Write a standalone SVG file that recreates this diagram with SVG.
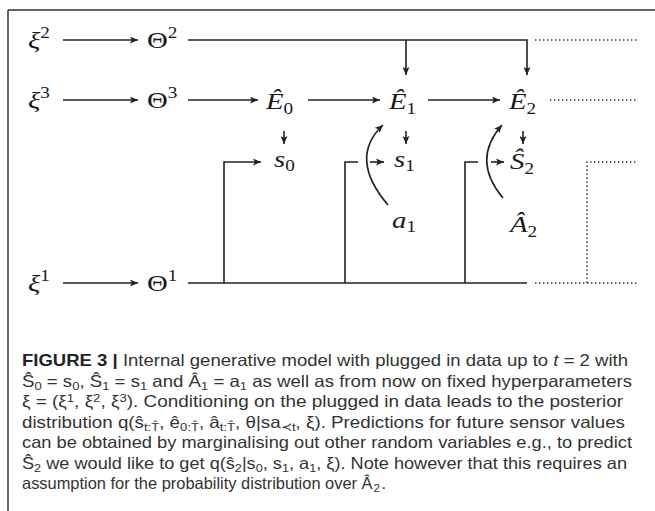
<svg xmlns="http://www.w3.org/2000/svg" width="655" height="511" viewBox="0 0 655 511">
<style>
.m{font-family:"Liberation Serif","DejaVu Serif",serif;font-size:24px;fill:#1a1a1a}
.i{font-style:italic}
.sc{font-size:16px;font-style:normal}
.ln{fill:none;stroke:#222;stroke-width:1.6}
.dot{fill:none;stroke:#333;stroke-width:1.5;stroke-dasharray:1.4 2.6}
.cap{font-family:"Liberation Sans","Roboto",sans-serif;font-size:16.5px;fill:#333}
.b{font-weight:bold;fill:#222}
.sb{font-size:11.5px}
</style>
<defs>
<marker id="ah" viewBox="0 0 8 7" refX="8" refY="3.5" markerWidth="8" markerHeight="7" markerUnits="userSpaceOnUse" orient="auto">
<path d="M0,0 L8,3.5 L0,7 L1.8,3.5 z" fill="#222"/>
</marker>
</defs>
<rect width="655" height="511" fill="#fff"/>
<g id="frame">
<path d="M8,10 H655 M8,10 V511" fill="none" stroke="#333" stroke-width="1.5"/>
</g>
<g id="connectors">
<path class="ln" d="M63,40 H138" marker-end="url(#ah)"/>
<path class="ln" d="M63,100 H138" marker-end="url(#ah)"/>
<path class="ln" d="M63,283 H138" marker-end="url(#ah)"/>
<path class="ln" d="M188,100 H258" marker-end="url(#ah)"/>
<path class="ln" d="M308,100 H380" marker-end="url(#ah)"/>
<path class="ln" d="M428,100 H500" marker-end="url(#ah)"/>
<path class="ln" d="M188,40 H527 V75" marker-end="url(#ah)"/>
<path class="ln" d="M406,40 V75" marker-end="url(#ah)"/>
<path class="ln" d="M284,131 V144" marker-end="url(#ah)"/>
<path class="ln" d="M406,131 V144" marker-end="url(#ah)"/>
<path class="ln" d="M523,131 V144" marker-end="url(#ah)"/>
<path class="ln" d="M188,283 H527"/>
<path class="ln" d="M224,283 V162 H261" marker-end="url(#ah)"/>
<path class="ln" d="M345,283 V162 H358"/>
<path class="ln" d="M465,283 V162 H478"/>
<path class="ln" d="M370,162 H384" marker-end="url(#ah)"/>
<path class="ln" d="M491,162 H504" marker-end="url(#ah)"/>
<path class="ln" d="M388,205 Q348,158 383,125" marker-end="url(#ah)"/>
<path class="ln" d="M503,198 Q471,160 502,125" marker-end="url(#ah)"/>
<path class="dot" d="M535,40 H637"/>
<path class="dot" d="M550,100 H637"/>
<path class="dot" d="M535,283 H637"/>
<path class="dot" d="M587,283 V162 H637"/>
</g>
<g id="n-xi2"><text class="m" transform="translate(28,48) scale(1.2,1)"><tspan class="i">ξ</tspan><tspan class="sc" dy="-10">2</tspan></text></g>
<g id="n-theta2"><text class="m" transform="translate(147,48) scale(1.2,1)">Θ<tspan class="sc" dy="-10">2</tspan></text></g>
<g id="n-xi3"><text class="m" transform="translate(28,108) scale(1.2,1)"><tspan class="i">ξ</tspan><tspan class="sc" dy="-10">3</tspan></text></g>
<g id="n-theta3"><text class="m" transform="translate(147,108) scale(1.2,1)">Θ<tspan class="sc" dy="-10">3</tspan></text></g>
<g id="n-E0"><text class="m" transform="translate(266,109) scale(1.2,1)"><tspan class="i">Ê</tspan><tspan class="sc" dy="5">0</tspan></text></g>
<g id="n-E1"><text class="m" transform="translate(389,109) scale(1.2,1)"><tspan class="i">Ê</tspan><tspan class="sc" dy="5">1</tspan></text></g>
<g id="n-E2"><text class="m" transform="translate(509,109) scale(1.2,1)"><tspan class="i">Ê</tspan><tspan class="sc" dy="5">2</tspan></text></g>
<g id="n-s0"><text class="m" transform="translate(274,167) scale(1.2,1)"><tspan class="i">s</tspan><tspan class="sc" dy="4">0</tspan></text></g>
<g id="n-s1"><text class="m" transform="translate(394,167) scale(1.2,1)"><tspan class="i">s</tspan><tspan class="sc" dy="4">1</tspan></text></g>
<g id="n-S2"><text class="m" transform="translate(510,169) scale(1.2,1)"><tspan class="i">Ŝ</tspan><tspan class="sc" dy="5">2</tspan></text></g>
<g id="n-a1"><text class="m" transform="translate(392,228) scale(1.2,1)"><tspan class="i">a</tspan><tspan class="sc" dy="4">1</tspan></text></g>
<g id="n-A2"><text class="m" transform="translate(510,232) scale(1.2,1)"><tspan class="i">Â</tspan><tspan class="sc" dy="5">2</tspan></text></g>
<g id="n-xi1"><text class="m" transform="translate(28,291) scale(1.2,1)"><tspan class="i">ξ</tspan><tspan class="sc" dy="-10">1</tspan></text></g>
<g id="n-theta1"><text class="m" transform="translate(147,291) scale(1.2,1)">Θ<tspan class="sc" dy="-10">1</tspan></text></g>
<g id="caption">
<text class="cap" x="22" y="366" textLength="606" lengthAdjust="spacingAndGlyphs"><tspan class="b">FIGURE 3 |</tspan> Internal generative model with plugged in data up to <tspan font-style="italic">t</tspan> = 2 with</text>
<text class="cap" x="22" y="386.5" textLength="610" lengthAdjust="spacingAndGlyphs">Ŝ<tspan class="sb" dy="3">0</tspan><tspan dy="-3"> = s</tspan><tspan class="sb" dy="3">0</tspan><tspan dy="-3">, Ŝ</tspan><tspan class="sb" dy="3">1</tspan><tspan dy="-3"> = s</tspan><tspan class="sb" dy="3">1</tspan><tspan dy="-3"> and Â</tspan><tspan class="sb" dy="3">1</tspan><tspan dy="-3"> = a</tspan><tspan class="sb" dy="3">1</tspan><tspan dy="-3"> as well as from now on fixed hyperparameters</tspan></text>
<text class="cap" x="22" y="407" textLength="601" lengthAdjust="spacingAndGlyphs">ξ = (ξ<tspan class="sb" dy="-5">1</tspan><tspan dy="5">, ξ</tspan><tspan class="sb" dy="-5">2</tspan><tspan dy="5">, ξ</tspan><tspan class="sb" dy="-5">3</tspan><tspan dy="5">). Conditioning on the plugged in data leads to the posterior</tspan></text>
<text class="cap" x="22" y="427.5" textLength="603" lengthAdjust="spacingAndGlyphs">distribution q(ŝ<tspan class="sb" dy="3">t:T̂</tspan><tspan dy="-3">, ê</tspan><tspan class="sb" dy="3">0:T̂</tspan><tspan dy="-3">, â</tspan><tspan class="sb" dy="3">t:T̂</tspan><tspan dy="-3">, θ|sa</tspan><tspan class="sb" dy="3">≺t</tspan><tspan dy="-3">, ξ). Predictions for future sensor values</tspan></text>
<text class="cap" x="22" y="448" textLength="610" lengthAdjust="spacingAndGlyphs">can be obtained by marginalising out other random variables e.g., to predict</text>
<text class="cap" x="22" y="468.5" textLength="605" lengthAdjust="spacingAndGlyphs">Ŝ<tspan class="sb" dy="3">2</tspan><tspan dy="-3"> we would like to get q(ŝ</tspan><tspan class="sb" dy="3">2</tspan><tspan dy="-3">|s</tspan><tspan class="sb" dy="3">0</tspan><tspan dy="-3">, s</tspan><tspan class="sb" dy="3">1</tspan><tspan dy="-3">, a</tspan><tspan class="sb" dy="3">1</tspan><tspan dy="-3">, ξ). Note however that this requires an</tspan></text>
<text class="cap" x="22" y="489" textLength="364" lengthAdjust="spacingAndGlyphs">assumption for the probability distribution over Â<tspan class="sb" dy="3" dx="1">2</tspan><tspan dy="-3" dx="1.5">.</tspan></text>
</g>
</svg>
